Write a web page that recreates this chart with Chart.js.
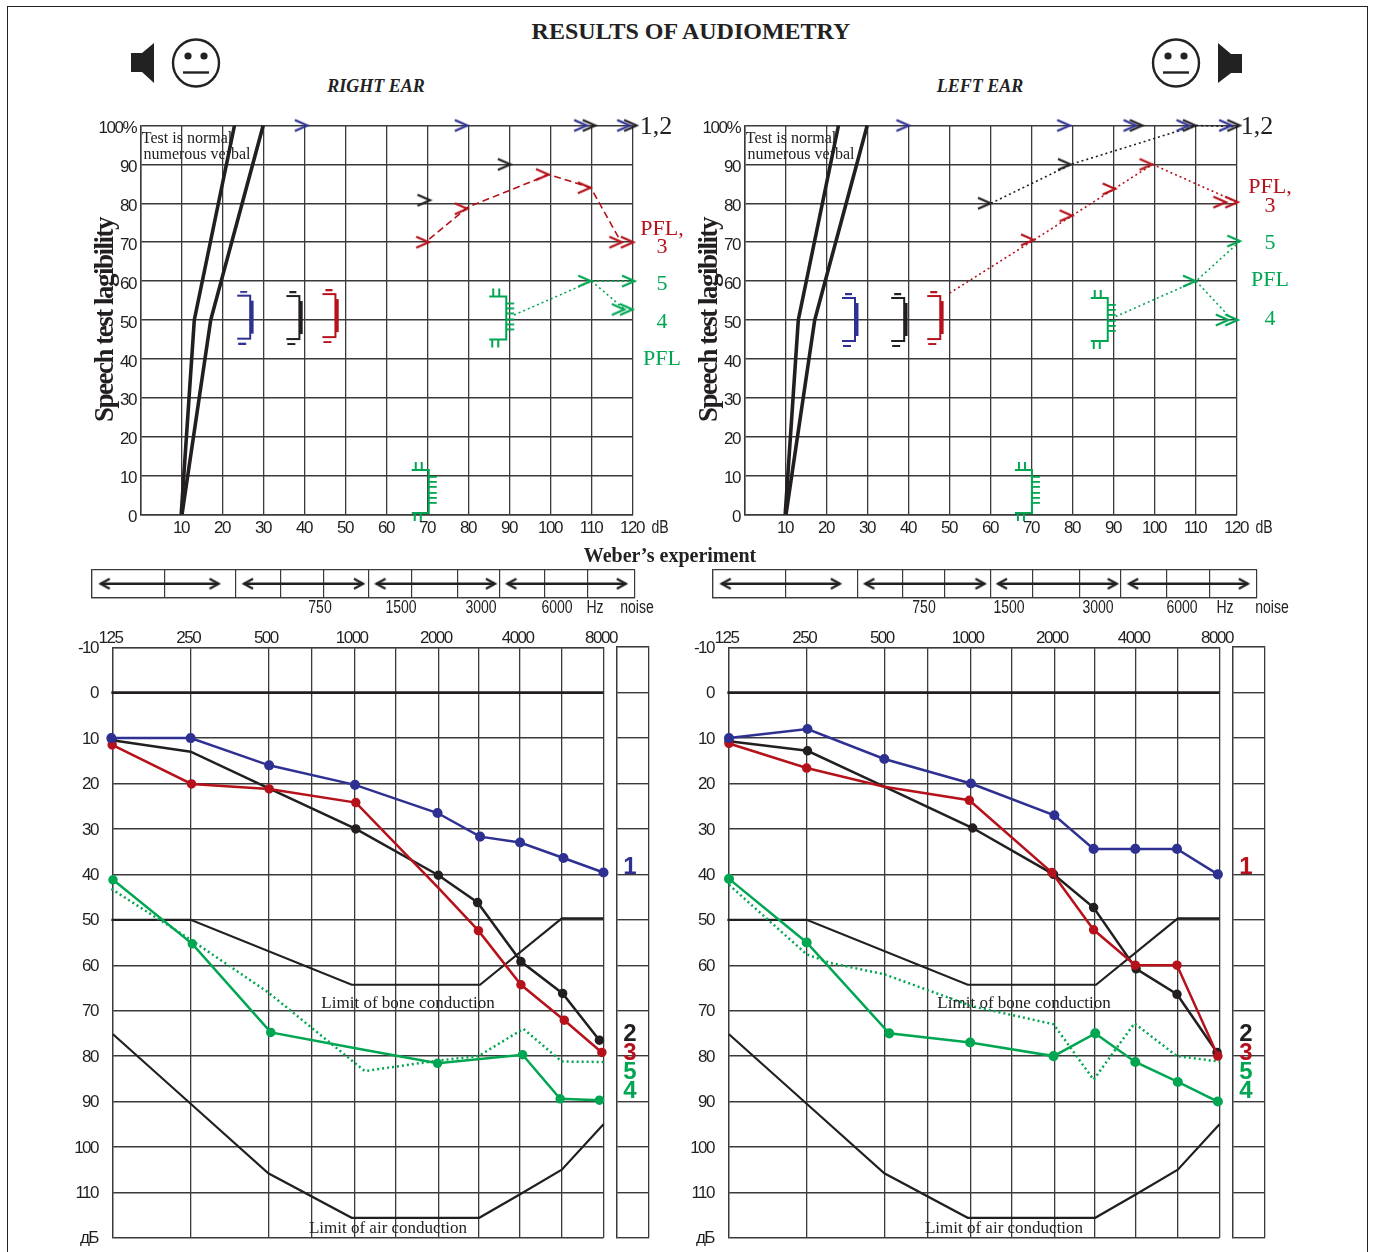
<!DOCTYPE html>
<html>
<head>
<meta charset="utf-8">
<title>Results of audiometry</title>
<script src="https://cdn.jsdelivr.net/npm/chart.js@4"></script>
<style>
  html, body { margin: 0; padding: 0; background: #fff; }
  #page { position: relative; width: 1374px; height: 1252px; overflow: hidden; background: #fff; }
  #frame { position: absolute; left: 7px; top: 6px; width: 1359px; height: 1300px; border: 1.5px solid #222; }
  canvas { position: absolute; }
  .t { position: absolute; white-space: nowrap; transform: translate(-50%, -50%); line-height: 1; }
  .serif { font-family: "Liberation Serif", serif; }
  .narrow { font-family: "Liberation Sans", sans-serif; color: #222; transform: translate(-50%, -50%) scaleX(.78); }
  .num { font-family: "Liberation Sans", sans-serif; font-weight: bold; font-size: 24px; }
  svg { position: absolute; }
</style>
</head>
<body>
<div id="page"><div id="frame"></div></div>
<script>
const BLUE = '#2e3192';
const RED = '#b5121b';
const GREEN = '#00a651';
const BLACK = '#231f20';
const GRID = '#3a3a3a';
const SANS = '"Liberation Sans", sans-serif';

// ---------- speech test (x: dB, y: %) ----------
const speechYTicks = [0, 10, 20, 30, 40, 50, 60, 70, 80, 90, 100];
const speechXTicks = [10, 20, 30, 40, 50, 60, 70, 80, 90, 100, 110, 120];
const normalAX = [9.8, 13, 22.8];
const normalAY = [0, 50, 100];
const normalBX = [10, 17, 29.8];
const normalBY = [0, 50, 100];

// right ear
const rChevBlueX = [40.7, 79.7, 108.8, 119.3];
const rChevBlueY = [100, 100, 100, 100];
const rChevBlackX = [70.6, 90.2, 110.9, 121];
const rChevBlackY = [80.8, 90, 100, 100];
const rChevRedX = [70.3, 79.7, 99.5, 109.7, 117.4, 120.2];
const rChevRedY = [70, 78.6, 87.4, 84, 70, 70];
const rChevGreenX = [109.8, 120.5, 118, 120];
const rChevGreenY = [60, 60, 52.7, 52.7];
const rRedLineX = [70.3, 79.7, 99.5, 109.7, 116.8];
const rRedLineY = [70.8, 79, 87.4, 84, 70.6];
const rGreenLineAX = [91, 109.9, 120];
const rGreenLineAY = [51.3, 60, 60];
const rGreenLineBX = [109.9, 118];
const rGreenLineBY = [60, 52.7];
const rBracketX = [25.4, 37.4, 46.2];
const rBracketY = [50.6, 50.5, 51];
const rCombX = [88.1, 69.2];
const rCombY = [50.4, 5.8];

// left ear
const lChevBlueX = [40.1, 79.3, 95.5, 108.4, 118.8];
const lChevBlueY = [100, 100, 100, 100, 100];
const lChevBlackX = [60, 79.5, 97, 110, 120.8];
const lChevBlackY = [80, 90, 100, 100, 100];
const lChevRedX = [70.5, 79.9, 90.4, 99.4, 117.4, 120.3];
const lChevRedY = [70.6, 76.8, 83.7, 90, 80.3, 80.3];
const lChevGreenX = [110, 120.8, 118, 120.3];
const lChevGreenY = [60, 70.3, 50, 50];
const lBlackLineX = [60, 79.5, 110, 120.8];
const lBlackLineY = [80, 90, 100, 99.7];
const lRedLineX = [49.9, 70.5, 99.4, 120];
const lRedLineY = [56.9, 70.6, 90, 80.3];
const lGreenLineAX = [90.4, 110, 120.8];
const lGreenLineAY = [50.9, 60, 70.3];
const lGreenLineBX = [110, 118];
const lGreenLineBY = [60, 51];
const lBracketX = [25.6, 37.6, 46.4];
const lBracketY = [50, 50, 50.5];
const lCombX = [87.5, 69];
const lCombY = [50, 5.8];

// ---------- Weber's experiment strip ----------
const weberCells = [0, 13.3, 26.5, 34.8, 42.6, 51, 58.8, 67.3, 75, 83.3, 91.2, 100];
const weberArrowFrom = [1.6, 28, 52.4, 76.5];
const weberArrowTo = [23.3, 49.9, 74.2, 98.3];

// ---------- tone audiogram (x: octaves above 125 Hz as printed on the form, y: dB) ----------
const freqLabels = ['125', '250', '500', '', '1000', '', '2000', '', '4000', '', '8000'];
const freqStops = [0, 0.95, 1.9, 2.43, 2.95, 3.46, 3.98, 4.47, 4.98, 5.49, 6];
const boneLimitX = [-0.02, 0.95, 2.92, 4.49, 5.49, 6];
const boneLimitY = [50, 50, 64.3, 64.3, 49.7, 49.7];
const airLimitX = [0, 0.95, 1.9, 2.92, 4.48, 4.98, 5.49, 6];
const airLimitY = [75.2, 90.5, 105.8, 115.6, 115.6, 110.4, 105, 95];
const zeroLineX = [-0.02, 6];
const zeroLineY = [0, 0];

// right ear
const rBlueX = [-0.02, 0.95, 1.91, 2.96, 3.97, 4.49, 4.98, 5.51, 6];
const rBlueY = [10, 10, 16, 20.3, 26.5, 31.7, 33, 36.4, 39.6];
const rBlackX = [-0.01, 0.95, 1.9, 2.97, 3.98, 4.46, 4.99, 5.5, 5.95];
const rBlackY = [10.5, 13, 21, 30, 40.2, 46.2, 59.2, 66.2, 76.5];
const rBlackDots = [3.5, 0, 0, 3.5, 3.5, 3.5, 3.5, 3.5, 3.5];
const rRedX = [-0.01, 0.96, 1.91, 2.97, 3.98, 4.47, 4.99, 5.52, 5.98];
const rRedY = [11.5, 20.1, 21.2, 24.2, 43, 52.4, 64.3, 72.1, 79.2];
const rRedDots = [3.5, 3.5, 3.5, 3.5, 0, 3.5, 3.5, 3.5, 3.5];
const rGreenX = [0, 0.97, 1.93, 2.95, 3.97, 5.01, 5.47, 5.95];
const rGreenY = [41.2, 55.3, 74.8, 78.2, 81.6, 79.7, 89.4, 89.7];
const rGreenDots = [3.5, 3.5, 3.5, 0, 3.5, 3.5, 3.5, 3.5];
const rBoneX = [-0.02, 0.96, 1.9, 3.08, 3.97, 4.47, 5.02, 5.49, 6];
const rBoneY = [43.2, 54.5, 66, 83.3, 81, 80, 74, 81.2, 81.3];

// left ear
const lBlueX = [0, 0.96, 1.9, 2.96, 3.98, 4.46, 4.97, 5.48, 5.98];
const lBlueY = [10, 8, 14.6, 20, 27, 34.4, 34.4, 34.4, 40];
const lBlackX = [0, 0.96, 1.9, 2.98, 3.97, 4.46, 4.98, 5.48, 5.97];
const lBlackY = [10.7, 12.8, 20.7, 29.8, 40, 47.3, 60.8, 66.4, 79.2];
const lBlackDots = [3.5, 3.5, 0, 3.5, 3.5, 3.5, 3.5, 3.5, 3.5];
const lRedX = [0, 0.95, 1.9, 2.94, 3.95, 4.46, 4.97, 5.48, 5.98];
const lRedY = [11.2, 16.6, 20.7, 23.7, 39.6, 52.2, 60, 60, 80];
const lRedDots = [3.5, 3.5, 0, 3.5, 3.5, 3.5, 3.5, 3.5, 3.5];
const lGreenX = [0, 0.95, 1.96, 2.95, 3.97, 4.48, 4.97, 5.49, 5.98];
const lGreenY = [41, 55, 75, 77, 80, 75, 81.3, 85.7, 90];
const lBoneX = [0, 0.95, 1.24, 1.9, 2.97, 3.97, 4.46, 4.96, 5.48, 6];
const lBoneY = [42.3, 57.6, 59.5, 62, 69, 73, 85.2, 72.8, 80, 81.2];

const page = document.getElementById('page');
const pts = (xs, ys) => xs.map((x, i) => ({ x, y: ys[i] }));

// the form's axis numbers are set in a condensed face
Chart.register({
  id: 'tightLabels',
  beforeLayout: (chart) => { chart.ctx.letterSpacing = '-1.5px'; },
  beforeDraw: (chart) => { chart.ctx.letterSpacing = '-1.5px'; }
});

function mount(left, top, width, height) {
  const c = document.createElement('canvas');
  c.width = width;
  c.height = height;
  c.style.left = left + 'px';
  c.style.top = top + 'px';
  c.style.width = width + 'px';
  c.style.height = height + 'px';
  page.appendChild(c);
  return c;
}

function text(str, cx, cy, cls, style) {
  const d = document.createElement('div');
  d.className = 't ' + cls;
  d.textContent = str;
  d.style.left = cx + 'px';
  d.style.top = cy + 'px';
  d.style.cssText += style || '';
  page.appendChild(d);
}

// ---------- marker sprites, each centred on its data point ----------
function sprite(w, h, draw) {
  const c = document.createElement('canvas');
  c.width = w;
  c.height = h;
  draw(c.getContext('2d'));
  return c;
}

function chevron(color) {
  // the tip sits on the point
  return sprite(30, 16, (g) => {
    g.strokeStyle = color;
    g.lineWidth = 2.2;
    g.beginPath();
    g.moveTo(2, 2.5);
    g.lineTo(14.5, 8);
    g.lineTo(2, 13.5);
    g.stroke();
  });
}

function arrowHead(dir) {
  return sprite(24, 16, (g) => {
    g.strokeStyle = BLACK;
    g.lineWidth = 2.4;
    g.beginPath();
    g.moveTo(12 - dir * 9, 3);
    g.lineTo(12, 8);
    g.lineTo(12 - dir * 9, 13);
    g.stroke();
  });
}

function bracket(color) {
  return sprite(18, 54, (g) => {
    g.fillStyle = color;
    g.fillRect(4, 0, 7, 2.2);
    g.fillRect(1, 4, 13, 2);
    g.fillRect(13, 4, 2, 45);
    g.fillRect(13, 10, 4.5, 33);
    g.fillRect(1, 47, 13, 2);
    g.fillRect(2, 52, 8, 2.2);
  });
}

function comb(color) {
  return sprite(28, 62, (g) => {
    g.fillStyle = color;
    [4, 10].forEach((x) => g.fillRect(x, 1, 2, 8));
    g.fillRect(1, 8, 17, 2);
    g.fillRect(17, 8, 2, 45);
    g.fillRect(1, 51, 17, 2);
    [3, 9].forEach((x) => g.fillRect(x, 52, 2, 8));
    [15, 20, 25, 31, 36, 41].forEach((y) => g.fillRect(18, y, 8, 1.8));
  });
}

const chevrons = (xs, ys, color) => ({
  type: 'scatter', data: pts(xs, ys), showLine: false, clip: false,
  pointStyle: chevron(color), pointRadius: 8
});
const marks = (xs, ys, sprites) => ({
  type: 'scatter', data: pts(xs, ys), showLine: false, clip: false,
  pointStyle: sprites, pointRadius: 8
});
const line = (xs, ys, color, width, dash, dots) => ({
  type: 'line', data: pts(xs, ys), borderColor: color, backgroundColor: color,
  borderWidth: width, borderDash: dash || [], pointRadius: dots || 0, tension: 0, clip: false
});

const base = {
  responsive: false,
  animation: false,
  events: [],
  plugins: { legend: { display: false }, tooltip: { enabled: false } }
};

function speechChart(left, title, sets) {
  return new Chart(mount(left, 110, 560, 440), {
    data: { datasets: sets },
    options: {
      ...base,
      layout: { autoPadding: false, padding: { top: 15.5, right: 17, left: 0, bottom: 0 } },
      scales: {
        x: {
          type: 'linear', min: 0, max: 120,
          afterFit: (s) => { s.height = 35.5; },
          afterBuildTicks: (s) => { s.ticks = [0].concat(speechXTicks).map((value) => ({ value })); },
          border: { color: GRID, width: 1.5 },
          grid: { color: GRID, lineWidth: 1.3, drawTicks: false },
          ticks: {
            autoSkip: false, maxRotation: 0, padding: 4, labelOffset: -1, color: BLACK,
            font: { family: SANS, size: 17 },
            callback: (v) => (v === 0 ? '' : v)
          }
        },
        y: {
          type: 'linear', min: 0, max: 100,
          afterFit: (s) => { s.width = 51; },
          afterBuildTicks: (s) => { s.ticks = speechYTicks.map((value) => ({ value })); },
          border: { color: GRID, width: 1.5 },
          grid: { color: GRID, lineWidth: 1.5, drawTicks: false },
          title: {
            display: !!title, text: title, color: BLACK, padding: 0,
            font: { family: '"Liberation Serif", serif', weight: 'bold', size: 27 }
          },
          ticks: {
            autoSkip: false, padding: 5, labelOffset: 3, color: BLACK,
            font: { family: SANS, size: 17 },
            callback: (v) => (v === 100 ? '100%' : v)
          }
        }
      }
    }
  });
}

function audiogram(left, sets) {
  return new Chart(mount(left, 622, 580, 641), {
    data: { datasets: sets },
    options: {
      ...base,
      layout: { autoPadding: false, padding: { top: 5, right: 580 - 543.5, left: 0, bottom: 14 } },
      scales: {
        x: {
          type: 'linear', position: 'top', min: 0, max: 6,
          afterFit: (s) => { s.height = 20; },
          afterBuildTicks: (s) => { s.ticks = freqStops.map((value) => ({ value })); },
          border: { color: GRID, width: 1.3 },
          grid: { color: GRID, lineWidth: 1.3, drawTicks: false },
          ticks: {
            autoSkip: false, maxRotation: 0, padding: -1, labelOffset: -2.5, color: BLACK,
            font: { family: SANS, size: 17 },
            callback: (v, i) => freqLabels[i]
          }
        },
        y: {
          type: 'linear', reverse: true, min: -10, max: 120,
          afterFit: (s) => { s.width = 53; },
          border: { color: GRID, width: 1.3 },
          grid: { color: GRID, lineWidth: 1.4, drawTicks: false },
          ticks: {
            stepSize: 10, autoSkip: false, padding: 15, labelOffset: 1, color: BLACK,
            font: { family: SANS, size: 17 },
            callback: (v) => (v === 120 ? 'дБ' : v)
          }
        }
      }
    }
  });
}

// narrow column to the right of each audiogram, same dB rows
function sideColumn(left) {
  return new Chart(mount(left, 622, 40, 630), {
    data: { datasets: [] },
    options: {
      ...base,
      layout: { autoPadding: false, padding: { top: 25, right: 7, left: 0.5, bottom: 14 } },
      scales: {
        x: {
          type: 'linear', position: 'top', min: 0, max: 1,
          afterFit: (s) => { s.height = 0; },
          border: { color: GRID, width: 1.3 },
          grid: { color: GRID, lineWidth: 1.3, drawTicks: false },
          ticks: { stepSize: 1, display: false }
        },
        y: {
          type: 'linear', reverse: true, min: -10, max: 120,
          afterFit: (s) => { s.width = 0; },
          border: { color: GRID, width: 1.3 },
          grid: { color: GRID, lineWidth: 1.4, drawTicks: false },
          ticks: { stepSize: 10, display: false }
        }
      }
    }
  });
}

function weberStrip(left, width) {
  const heads = [arrowHead(-1), arrowHead(1)];
  const sets = weberArrowFrom.map((from, i) => ({
    type: 'line', data: pts([from, weberArrowTo[i]], [0.5, 0.5]),
    borderColor: BLACK, borderWidth: 2.4, pointStyle: heads, pointRadius: 8, clip: false
  }));
  return new Chart(mount(left, 560, width, 45), {
    data: { datasets: sets },
    options: {
      ...base,
      layout: { autoPadding: false, padding: { top: 9.5, right: 6, left: 6, bottom: 7 } },
      scales: {
        x: {
          type: 'linear', min: 0, max: 100,
          afterFit: (s) => { s.height = 0; },
          afterBuildTicks: (s) => { s.ticks = weberCells.map((value) => ({ value })); },
          border: { color: GRID, width: 1.2 },
          grid: { color: GRID, lineWidth: 1.2, drawTicks: false },
          ticks: { display: false }
        },
        y: {
          type: 'linear', min: 0, max: 1,
          afterFit: (s) => { s.width = 0; },
          border: { color: GRID, width: 1.2 },
          grid: { color: GRID, lineWidth: 1.2, drawTicks: false },
          ticks: { stepSize: 1, display: false }
        }
      }
    }
  });
}

const dotted = [2, 3];
const normalCurves = () => [
  line(normalAX, normalAY, BLACK, 3.6),
  line(normalBX, normalBY, BLACK, 3.6)
];
const brackets = [bracket(BLUE), bracket(BLACK), bracket(RED)];
const combs = [comb(GREEN), comb(GREEN)];

speechChart(90, 'Speech test lagibility', [
  ...normalCurves(),
  chevrons(rChevBlueX, rChevBlueY, BLUE),
  chevrons(rChevBlackX, rChevBlackY, BLACK),
  chevrons(rChevRedX, rChevRedY, RED),
  chevrons(rChevGreenX, rChevGreenY, GREEN),
  line(rRedLineX, rRedLineY, RED, 1.6, [7, 4]),
  line(rGreenLineAX, rGreenLineAY, GREEN, 1.6, dotted),
  line(rGreenLineBX, rGreenLineBY, GREEN, 1.6, dotted),
  marks(rBracketX, rBracketY, brackets),
  marks(rCombX, rCombY, combs)
]);

speechChart(694, 'Speech test lagibility', [
  ...normalCurves(),
  chevrons(lChevBlueX, lChevBlueY, BLUE),
  chevrons(lChevBlackX, lChevBlackY, BLACK),
  chevrons(lChevRedX, lChevRedY, RED),
  chevrons(lChevGreenX, lChevGreenY, GREEN),
  line(lBlackLineX, lBlackLineY, BLACK, 1.6, dotted),
  line(lRedLineX, lRedLineY, RED, 1.6, dotted),
  line(lGreenLineAX, lGreenLineAY, GREEN, 1.6, dotted),
  line(lGreenLineBX, lGreenLineBY, GREEN, 1.6, dotted),
  marks(lBracketX, lBracketY, brackets),
  marks(lCombX, lCombY, combs)
]);

weberStrip(86, 555);
weberStrip(707, 556);

const limits = () => [
  line(zeroLineX, zeroLineY, BLACK, 2.6),
  line(boneLimitX, boneLimitY, BLACK, 2.2),
  line(airLimitX, airLimitY, BLACK, 2.2)
];

audiogram(60, [
  line(rBlueX, rBlueY, BLUE, 2.5, null, 3.8),
  line(rRedX, rRedY, RED, 2.5, null, rRedDots),
  line(rBlackX, rBlackY, BLACK, 2.5, null, rBlackDots),
  line(rGreenX, rGreenY, GREEN, 2.5, null, rGreenDots),
  line(rBoneX, rBoneY, GREEN, 2.5, dotted),
  ...limits()
]);

audiogram(676, [
  line(lBlueX, lBlueY, BLUE, 2.5, null, 3.8),
  line(lRedX, lRedY, RED, 2.5, null, lRedDots),
  line(lBlackX, lBlackY, BLACK, 2.5, null, lBlackDots),
  line(lGreenX, lGreenY, GREEN, 2.5, null, 3.8),
  line(lBoneX, lBoneY, GREEN, 2.5, dotted),
  ...limits()
]);

sideColumn(616);
sideColumn(1232);

// ---------- headings and printed labels ----------
text('RESULTS OF AUDIOMETRY', 691, 31, 'serif', 'font-weight:bold;font-size:24px;color:#222;');
text('RIGHT EAR', 376, 86, 'serif', 'font-weight:bold;font-style:italic;font-size:18px;color:#222;');
text('LEFT EAR', 980, 86, 'serif', 'font-weight:bold;font-style:italic;font-size:18px;color:#222;');
text('Weber\u2019s experiment', 670, 555, 'serif', 'font-weight:bold;font-size:20px;color:#222;');

[0, 604].forEach((dx) => {
  text('Test is normal', 187 + dx, 138, 'serif', 'font-size:16px;color:#222;');
  text('numerous verbal', 197 + dx, 154, 'serif', 'font-size:16px;color:#222;');
});
[0, 616].forEach((dx) => {
  text('Limit of bone conduction', 408 + dx, 1002, 'serif', 'font-size:17px;color:#222;');
  text('Limit of air conduction', 388 + dx, 1227, 'serif', 'font-size:17px;color:#222;');
});

text('dB', 660, 527, 'narrow', 'font-size:18px;');
text('dB', 1264, 527, 'narrow', 'font-size:18px;');

const sideSerif = 'font-size:22px;';
text('1,2', 656, 126, 'serif', 'font-size:26px;color:#222;');
text('PFL,', 662, 228, 'serif', sideSerif + 'color:' + RED);
text('3', 662, 246, 'serif', sideSerif + 'color:' + RED);
text('5', 662, 283, 'serif', sideSerif + 'color:' + GREEN);
text('4', 662, 321, 'serif', sideSerif + 'color:' + GREEN);
text('PFL', 662, 358, 'serif', sideSerif + 'color:' + GREEN);

text('1,2', 1257, 126, 'serif', 'font-size:26px;color:#222;');
text('PFL,', 1270, 186, 'serif', sideSerif + 'color:' + RED);
text('3', 1270, 205, 'serif', sideSerif + 'color:' + RED);
text('5', 1270, 242, 'serif', sideSerif + 'color:' + GREEN);
text('PFL', 1270, 279, 'serif', sideSerif + 'color:' + GREEN);
text('4', 1270, 318, 'serif', sideSerif + 'color:' + GREEN);

const weberLabels = ['750', '1500', '3000', '6000', 'Hz', 'noise'];
const rWeberPos = [319.6, 401, 481, 557, 595, 637];
const lWeberPos = [924, 1009, 1098, 1182, 1225, 1272];
weberLabels.forEach((w, i) => {
  text(w, rWeberPos[i], 607, 'narrow', 'font-size:18px;');
  text(w, lWeberPos[i], 607, 'narrow', 'font-size:18px;');
});

[[630, BLUE], [1246, RED]].forEach(([x, c]) => {
  text('1', x, 866, 'num', 'color:' + c);
});
[630, 1246].forEach((x) => {
  text('2', x, 1033, 'num', 'color:' + BLACK);
  text('3', x, 1052, 'num', 'color:' + RED);
  text('5', x, 1071, 'num', 'color:' + GREEN);
  text('4', x, 1090, 'num', 'color:' + GREEN);
});

// ---------- speaker and face icons ----------
function icon(markup) {
  page.insertAdjacentHTML('beforeend',
    '<svg width="1374" height="130" style="left:0;top:0">' + markup + '</svg>');
}
const face = (cx) =>
  `<ellipse cx="${cx}" cy="63" rx="23" ry="23.5" fill="none" stroke="#222" stroke-width="2.4"/>` +
  `<circle cx="${cx - 8}" cy="56" r="3.6" fill="#222"/><circle cx="${cx + 8}" cy="56" r="3.6" fill="#222"/>` +
  `<line x1="${cx - 13}" x2="${cx + 13}" y1="72.5" y2="72.5" stroke="#222" stroke-width="2.4"/>`;
icon(face(196) + face(1176) +
  '<polygon points="131,53 142,53 154,43 154,83 142,72 131,72" fill="#222"/>' +
  '<polygon points="1218,43 1231,54 1242,54 1242,73 1231,73 1218,83" fill="#222"/>');
</script>
</body>
</html>
